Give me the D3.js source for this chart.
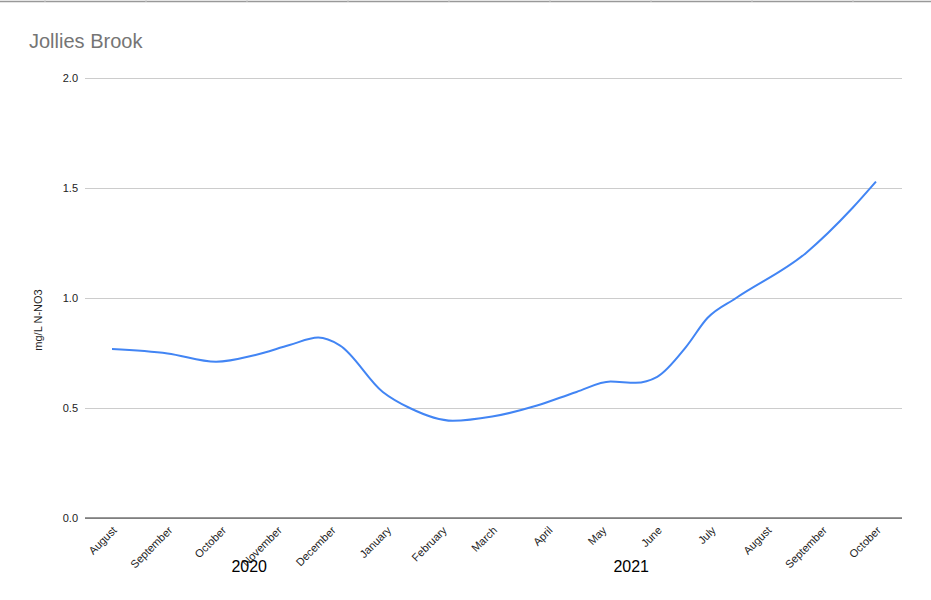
<!DOCTYPE html>
<html lang="en">
<head>
    <meta charset="UTF-8">
    <title>Jollies Brook</title>
    <script src="https://d3js.org/d3.v7.min.js"></script>
    <style>
        body { margin: 0; background: #fff; }
        text { font-family: "Liberation Sans", Arial, sans-serif; }
    </style>
</head>
<body>
<svg id="main" width="931" height="600"></svg>
<script>
    // sample dates and nitrate readings (mg/L N-NO3)
    let sampleDates = ['2020-08-01', '2020-09-01', '2020-09-28', '2020-10-20', '2020-11-08',
        '2020-11-24', '2020-12-06', '2020-12-30', '2021-01-14', '2021-02-07', '2021-03-01',
        '2021-03-26', '2021-04-17', '2021-05-06', '2021-05-20', '2021-06-01', '2021-06-17',
        '2021-06-29', '2021-07-15', '2021-08-23', '2021-09-18', '2021-10-01'];
    let nitrate = [0.768, 0.748, 0.71, 0.741, 0.786,
        0.82, 0.785, 0.573, 0.50, 0.442, 0.461,
        0.511, 0.573, 0.62, 0.615, 0.642, 0.777,
        0.909, 1.0, 1.205, 1.41, 1.529];
    let yTicks = [0, 0.5, 1.0, 1.5, 2.0];
    let years = [2020, 2021];
    let title = 'Jollies Brook';
    let yTitle = 'mg/L N-NO3';

    let svg = d3.select('svg#main');
    let W = 931, H = 600;
    let plot = {left: 85, right: 902, top: 78, bottom: 518};

    let parse = d3.timeParse('%Y-%m-%d');
    let data = sampleDates.map(function (d, i) {
        return {date: parse(d), value: nitrate[i]};
    });

    // spreadsheet border at the very top
    svg.append('line')
        .attr('x1', 0).attr('x2', W).attr('y1', 1.5).attr('y2', 1.5)
        .attr('stroke', '#999').attr('stroke-width', 1.5);
    svg.selectAll('line.col')
        .data(d3.range(45, W, 101))
        .enter().append('line')
        .attr('class', 'col')
        .attr('x1', d => d).attr('x2', d => d)
        .attr('y1', 0).attr('y2', 2)
        .attr('stroke', '#ccc');

    let xScale = d3.scaleTime()
        .domain(d3.extent(data, d => d.date))
        .range([112, 876]);
    let yScale = d3.scaleLinear()
        .domain([0, 2])
        .range([plot.bottom, plot.top]);

    // title
    svg.append('text')
        .attr('x', 29).attr('y', 48)
        .attr('font-size', 20)
        .attr('fill', '#757575')
        .text(title);

    // y axis with grid lines
    let yAxis = svg.append('g')
        .attr('transform', 'translate(' + plot.left + ',0)')
        .call(d3.axisLeft(yScale)
            .tickValues(yTicks)
            .tickFormat(d3.format('.1f'))
            .tickSize(-(plot.right - plot.left))
            .tickPadding(7));
    yAxis.select('.domain').remove();
    yAxis.selectAll('line').attr('stroke', '#cccccc');
    yAxis.selectAll('text')
        .attr('font-size', 11)
        .attr('fill', '#222')
        .style('font-family', '"Liberation Sans", Arial, sans-serif');

    // baseline
    svg.append('line')
        .attr('x1', plot.left).attr('x2', plot.right)
        .attr('y1', yScale(0)).attr('y2', yScale(0))
        .attr('stroke', '#333').attr('stroke-width', 1);

    svg.append('text')
        .attr('transform', 'translate(42,320) rotate(-90)')
        .attr('text-anchor', 'middle')
        .attr('font-size', 11)
        .attr('fill', '#222')
        .text(yTitle);

    // x axis: month names, rotated
    let xAxis = svg.append('g')
        .attr('transform', 'translate(0,' + plot.bottom + ')')
        .call(d3.axisBottom(xScale)
            .ticks(d3.timeMonth.every(1))
            .tickFormat(d3.timeFormat('%B'))
            .tickSize(0));
    xAxis.select('.domain').remove();
    xAxis.selectAll('text')
        .attr('font-size', 11)
        .attr('fill', '#222')
        .style('font-family', '"Liberation Sans", Arial, sans-serif')
        .attr('text-anchor', 'end')
        .attr('dy', 0)
        .attr('transform', 'translate(5,13) rotate(-45)')
        .attr('y', 0);

    // year labels, centred on the part of each year that is shown
    let dom = xScale.domain();
    svg.selectAll('text.year')
        .data(years)
        .enter().append('text')
        .attr('class', 'year')
        .attr('x', function (y) {
            let a = d3.max([new Date(y, 0, 1), dom[0]]);
            let b = d3.min([new Date(y + 1, 0, 1), dom[1]]);
            return (xScale(a) + xScale(b)) / 2;
        })
        .attr('y', 572)
        .attr('text-anchor', 'middle')
        .attr('font-size', 16)
        .attr('fill', '#000')
        .text(d => d);

    // the line
    let line = d3.line()
        .x(d => xScale(d.date))
        .y(d => yScale(d.value))
        .curve(d3.curveMonotoneX);
    svg.append('path')
        .datum(data)
        .attr('fill', 'none')
        .attr('stroke', '#4285f4')
        .attr('stroke-width', 2)
        .attr('d', line);
</script>
</body>
</html>
